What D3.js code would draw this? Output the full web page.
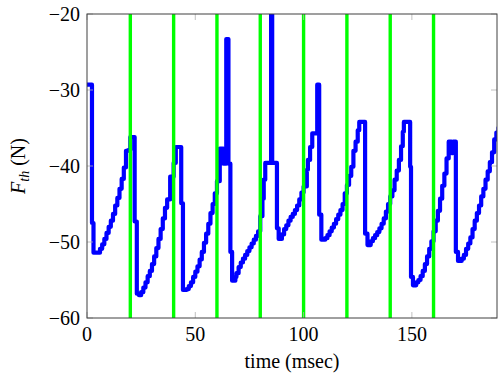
<!DOCTYPE html>
<html>
<head>
<meta charset="utf-8">
<script src="https://cdn.jsdelivr.net/npm/d3@7"></script>
<style>
  body { margin: 0; background: #fff; }
</style>
</head>
<body>
<svg width="498" height="382" font-family="'Liberation Serif', 'Times New Roman', 'DejaVu Serif', serif"></svg>
<script>
// step samples of the thrust force
const timeMs = [
  0, 2.3, 3, 5, 6, 7, 8, 9, 10, 11, 12, 13, 14, 15, 16, 17, 18, 19, 20, 22, 23,
  24, 25, 26, 27, 28, 29, 30, 31, 32, 33, 34, 35, 36, 37, 38.4, 40, 41, 43.5, 44.3,
  46, 47, 48, 49, 50, 51, 52, 53, 54, 55, 56, 57, 58, 59, 60, 61.3, 63, 64.3, 65.3, 66.2, 67,
  68.5, 69, 70, 71, 72, 73, 74, 75, 76, 77, 78, 79, 80, 81, 81.6, 82.3, 85, 85.5, 87.7, 88.5,
  90, 91, 92, 93, 94, 95, 96, 97, 98, 99, 100, 101.5, 102, 103, 104, 106.3, 107.2, 108.2,
  110, 111, 112, 113, 114, 115, 116, 117, 118, 119, 120, 121, 122, 123, 124, 125, 125.7, 128.4, 129.5,
  131, 132, 133, 134, 135, 136, 137, 138, 139, 140, 141, 142, 143, 144, 145, 145.8, 146.3, 149.2, 149.6, 150.5,
  152, 153, 154, 155, 156, 157, 158, 159, 160, 161, 162, 163, 164, 165, 166, 167, 168.3, 169, 170.3, 171.3,
  173, 174, 175, 176, 177, 178, 179, 180, 181, 182, 183, 184, 185, 186, 187, 188, 189, 190
];
const forceN = [
  -29.3, -47.5, -51.4, -51.4, -50.9, -50.3, -49.6, -48.8, -48.0, -47.2, -46.3, -45.2, -44.2, -43.0, -41.7, -40.2, -38.0, -37.9, -36.2, -47.3, -56.8,
  -57.0, -56.6, -56.0, -55.3, -54.5, -53.8, -52.9, -51.9, -50.8, -49.6, -48.3, -46.9, -45.5, -44.4, -41.4, -39.6, -37.5, -44.9, -56.3,
  -56.2, -55.8, -55.3, -54.6, -53.9, -53.2, -52.3, -51.3, -50.1, -48.9, -47.6, -46.2, -45.0, -43.6, -42.0, -37.7, -39.7, -23.3, -39.7, -51.3, -55.1,
  -54.6, -54.1, -53.3, -52.7, -52.2, -51.7, -51.2, -50.7, -50.2, -49.7, -49.2, -48.6, -46.6, -44.3, -41.8, -39.6, -10, -39.6, -48.2, -49.6,
  -49.0, -48.3, -47.8, -47.2, -46.7, -46.3, -45.8, -45.2, -44.4, -43.5, -42.7, -40.5, -39.2, -37.5, -35.7, -29.3, -46.4, -49.7,
  -49.5, -49.1, -48.6, -48.1, -47.6, -47.0, -46.4, -45.8, -45.0, -43.6, -42.5, -41.3, -40.1, -38.0, -36.8, -35.3, -34.2, -48.9, -50.4,
  -49.9, -49.5, -49.1, -48.7, -48.2, -47.6, -46.9, -46.0, -45.0, -44.0, -43.2, -41.8, -40.6, -39.2, -37.4, -35.5, -34.2, -40.1, -54.6, -55.7,
  -55.3, -55.0, -54.5, -53.8, -52.9, -51.9, -50.9, -49.9, -48.6, -47.2, -45.9, -44.3, -42.6, -41.0, -39.0, -36.8, -38.3, -36.8, -51.3, -52.5,
  -52.2, -51.7, -50.9, -50.2, -49.4, -48.3, -47.2, -46.2, -45.2, -44.0, -43.0, -41.8, -40.7, -39.5, -38.2, -36.5, -35.6, -35.0
];
const pulseTimes = [20, 40, 60, 80, 100, 120, 140, 160];
const xTicks = [0, 50, 100, 150];
const yTicks = [-60, -50, -40, -30, -20];

const margin = {top: 14, right: 1, bottom: 64, left: 87};
const width = 498 - margin.left - margin.right,
      height = 382 - margin.top - margin.bottom;

const svg = d3.select("svg");
const g = svg.append("g").attr("transform", `translate(${margin.left},${margin.top})`);

const x = d3.scaleLinear().domain([0, 189.3]).range([0, width]);
const y = d3.scaleLinear().domain([-60, -20]).range([height, 0]);

svg.append("defs").append("clipPath").attr("id", "plot-clip")
  .append("rect").attr("width", width).attr("height", height);

const data = timeMs.map((t, i) => ({t: t, f: forceN[i]}));

const line = d3.line()
  .x(d => x(d.t))
  .y(d => y(d.f))
  .curve(d3.curveStepAfter);

const plot = g.append("g").attr("clip-path", "url(#plot-clip)");

plot.append("path")
  .datum(data)
  .attr("fill", "none")
  .attr("stroke", "#0000ff")
  .attr("stroke-width", 4.2)
  .attr("stroke-linejoin", "round")
  .attr("stroke-linecap", "round")
  .attr("d", line);

plot.selectAll(".pulse").data(pulseTimes)
  .enter().append("line")
    .attr("x1", d => x(d)).attr("x2", d => x(d))
    .attr("y1", 0).attr("y2", height)
    .attr("stroke", "#00ff00")
    .attr("stroke-width", 3.4);

// ticks inside, on all four sides
const tickLen = 6;
g.selectAll(".xtb").data(xTicks).enter().append("line")
  .attr("x1", d => x(d)).attr("x2", d => x(d))
  .attr("y1", height).attr("y2", height - tickLen)
  .attr("stroke", "#b0b0b0").attr("stroke-width", 0.8);
g.selectAll(".xtt").data(xTicks).enter().append("line")
  .attr("x1", d => x(d)).attr("x2", d => x(d))
  .attr("y1", 0).attr("y2", tickLen)
  .attr("stroke", "#b0b0b0").attr("stroke-width", 0.8);
g.selectAll(".ytl").data(yTicks).enter().append("line")
  .attr("x1", 0).attr("x2", tickLen)
  .attr("y1", d => y(d)).attr("y2", d => y(d))
  .attr("stroke", "#b0b0b0").attr("stroke-width", 0.8);
g.selectAll(".ytr").data(yTicks).enter().append("line")
  .attr("x1", width).attr("x2", width - tickLen)
  .attr("y1", d => y(d)).attr("y2", d => y(d))
  .attr("stroke", "#b0b0b0").attr("stroke-width", 0.8);

// frame
g.append("rect")
  .attr("x", 0).attr("y", 0)
  .attr("width", width).attr("height", height)
  .attr("fill", "none")
  .attr("stroke", "#404040")
  .attr("stroke-width", 1);

// tick labels
g.selectAll(".xl").data(xTicks).enter().append("text")
  .attr("x", d => x(d))
  .attr("y", height + 23)
  .attr("text-anchor", "middle")
  .attr("font-size", "20px")
  .text(d => d);

g.selectAll(".yl").data(yTicks).enter().append("text")
  .attr("x", -7)
  .attr("y", d => y(d))
  .attr("dy", "0.35em")
  .attr("text-anchor", "end")
  .attr("font-size", "20px")
  .text(d => "\u2212" + Math.abs(d));

// X label
g.append("text")
  .attr("x", width / 2)
  .attr("y", height + 50)
  .attr("text-anchor", "middle")
  .attr("font-size", "20px")
  .text("time (msec)");

// Y label
const yl = svg.append("text")
  .attr("transform", `translate(25, ${margin.top + height / 2}) rotate(-90)`)
  .attr("text-anchor", "middle")
  .attr("font-size", "20px");
yl.append("tspan").attr("font-style", "italic").text("F");
yl.append("tspan").attr("font-style", "italic").attr("font-size", "14px")
  .attr("dy", "4").text("th");
yl.append("tspan").attr("dy", "-4").text(" (N)");
</script>
</body>
</html>
